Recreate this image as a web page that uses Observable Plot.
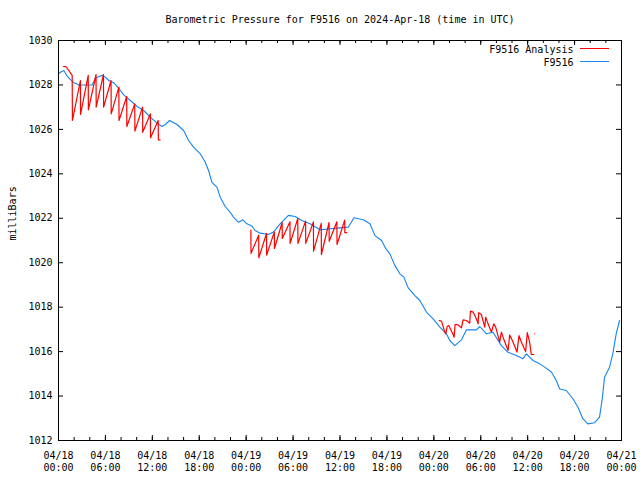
<!DOCTYPE html>
<html><head><meta charset="utf-8">
<script src="https://cdn.jsdelivr.net/npm/d3@7"></script>
<script src="https://cdn.jsdelivr.net/npm/@observablehq/plot@0.6"></script>
<style>body{margin:0;background:#fff}</style>
</head><body><div id="chart"></div>
<script>
const chartTitle = "Barometric Pressure for F9516 on 2024-Apr-18 (time in UTC)";
const yLabel = "milliBars";
const seriesNames = ["F9516 Analysis", "F9516"];
const seriesColors = ["#ff0000", "#1584ee"];
const startUTC = Date.UTC(2024, 3, 18);
const yTicks = [1012, 1014, 1016, 1018, 1020, 1022, 1024, 1026, 1028, 1030];

// Observed station pressure (hours after 2024-04-18 00:00 UTC)
const stationHours = [0, 0.26, 0.68, 1.11, 1.5, 1.95, 2.3, 2.59, 4.3, 4.72, 5.2, 5.58, 6.0, 6.42, 7.06, 7.7, 8.34, 9.19, 10.05, 10.89, 11.74, 12.6, 13.24, 13.66, 14.21, 15.15, 16.0, 16.63, 17.27, 18.13, 18.77, 19.19, 19.62, 20.26, 20.68, 21.32, 21.96, 22.38, 23.02, 23.58, 24.09, 24.73, 25.15, 25.79, 26.85, 27.49, 28.34, 29.4, 30.26, 31.11, 32.17, 33.45, 34.72, 36.0, 37.06, 37.79, 38.98, 39.83, 40.47, 41.32, 41.87, 42.38, 43.02, 43.66, 44.17, 44.72, 45.58, 46.21, 47.07, 47.91, 48.77, 49.62, 50.04, 50.68, 51.54, 52.17, 53.45, 53.87, 54.73, 55.57, 56.64, 57.49, 58.56, 59.4, 59.83, 60.68, 61.53, 62.17, 63.03, 63.66, 64.09, 64.94, 65.79, 66.43, 67.06, 67.7, 68.56, 69.19, 69.54, 69.83, 70.47, 70.89, 71.32, 71.75];
const stationPressure = [1028.5, 1028.57, 1028.65, 1028.4, 1028.25, 1028.1, 1028.05, 1028.0, 1028.0, 1028.3, 1028.38, 1028.43, 1028.35, 1028.2, 1028.1, 1027.85, 1027.55, 1027.3, 1027.03, 1026.85, 1026.55, 1026.28, 1026.13, 1026.22, 1026.4, 1026.22, 1025.95, 1025.5, 1025.2, 1024.9, 1024.52, 1024.15, 1023.62, 1023.4, 1022.95, 1022.53, 1022.27, 1022.05, 1021.82, 1021.93, 1021.75, 1021.65, 1021.45, 1021.33, 1021.27, 1021.38, 1021.75, 1022.13, 1022.08, 1021.9, 1021.75, 1021.48, 1021.53, 1021.57, 1021.6, 1022.02, 1021.93, 1021.75, 1021.22, 1021.0, 1020.62, 1020.4, 1019.87, 1019.5, 1019.35, 1018.87, 1018.52, 1018.3, 1017.77, 1017.47, 1017.1, 1016.8, 1016.5, 1016.27, 1016.53, 1016.98, 1016.98, 1017.13, 1016.8, 1016.87, 1016.27, 1015.97, 1015.82, 1015.68, 1015.9, 1015.6, 1015.45, 1015.3, 1015.08, 1014.7, 1014.32, 1014.25, 1013.88, 1013.5, 1012.98, 1012.75, 1012.8, 1013.05, 1013.88, 1014.85, 1015.3, 1015.9, 1016.8, 1017.4];

// Analysis fits: three runs
const analysisRun = [
  1,1,1,1,1,1,1,1,1,1,1,1,1,1,1,1,1,1,1,1,1,1,1,1,1,1,1,
  2,2,2,2,2,2,2,2,2,2,2,2,2,2,2,2,2,2,2,2,2,2,2,2,2,2,2,
  3,3,3,3,3,3,3,3,3,3,3,3,3,3,3,3,3,3,3,3,3,3,3,3,3,3,3,3,3,3,3,3,3,3,3,3,3,3,3,3];
const analysisHours = [
  0.64, 0.94, 1.75, 1.78, 2.8, 2.82, 3.8, 3.82, 4.8, 4.82, 5.75, 5.77, 6.72, 6.74, 7.72, 7.74, 8.72, 8.74, 9.75, 9.77, 10.75, 10.77, 11.75, 11.77, 12.75, 12.77, 13.0,
  24.6, 24.62, 25.6, 25.62, 26.6, 26.62, 27.6, 27.62, 28.6, 28.62, 29.6, 29.62, 30.6, 30.62, 31.6, 31.62, 32.6, 32.62, 33.6, 33.62, 34.6, 34.62, 35.6, 35.62, 36.6, 36.62, 36.85,
  48.68, 48.98, 49.4, 49.53, 49.7, 49.91, 50.46, 50.59, 50.72, 51.1, 51.53, 51.74, 52.17, 52.59, 52.68, 53.02, 53.44, 53.66, 53.74, 54.08, 54.51, 54.64, 54.93, 55.36, 55.66, 55.91, 56.42, 56.64, 56.85, 57.49, 57.7, 58.04, 58.64, 58.89, 59.19, 59.74, 59.95, 60.25, 60.46, 60.8, 60.89];
const analysisPressure = [
  1028.83, 1028.83, 1028.43, 1026.4, 1028.2, 1026.67, 1028.43, 1026.88, 1028.47, 1027.0, 1028.47, 1027.0, 1028.2, 1026.7, 1027.9, 1026.4, 1027.48, 1026.13, 1027.15, 1025.92, 1027.0, 1025.87, 1026.7, 1025.62, 1026.4, 1025.53, 1025.53,
  1021.47, 1020.42, 1021.24, 1020.22, 1021.32, 1020.34, 1021.39, 1020.64, 1021.81, 1021.09, 1021.84, 1020.87, 1021.99, 1020.87, 1021.87, 1020.87, 1021.84, 1020.52, 1021.77, 1020.37, 1021.81, 1020.97, 1021.84, 1020.82, 1021.92, 1021.35, 1021.35,
  1017.4, 1017.37, 1016.88, 1016.8, 1017.13, 1017.18, 1016.77, 1016.65, 1017.22, 1017.2, 1017.07, 1017.43, 1017.4, 1017.28, 1017.82, 1017.78, 1017.48, 1017.25, 1017.75, 1017.67, 1017.1, 1017.55, 1017.25, 1016.88, 1017.25, 1017.1, 1016.43, 1016.88, 1016.65, 1016.05, 1016.75, 1016.5, 1015.98, 1016.72, 1016.43, 1016.0, 1016.85, 1016.43, 1015.87, 1015.87, 1016.8];

const toDate = h => new Date(startUTC + h * 3600e3);
const station = stationHours.map((h, i) => ({t: toDate(h), p: stationPressure[i]}));
const analysis = analysisHours.map((h, i) => ({t: toDate(h), p: analysisPressure[i], run: analysisRun[i]}));
const x0 = toDate(0), x1 = toDate(72);
const majorTicks = d3.utcHour.every(6).range(x0, toDate(72.01));
const minorTicks = d3.utcHour.every(2).range(x0, toDate(72.01));
const fmt = d3.utcFormat("%m/%d\n%H:%M");

const W = 640, H = 480, mL = 58, mR = 19, mT = 40, mB = 40;
const pw = W - mL - mR, ph = H - mT - mB;
const majLen = 5, minLen = 3;

const plot = Plot.plot({
  width: W, height: H,
  marginLeft: mL, marginRight: mR, marginTop: mT, marginBottom: mB,
  style: {fontFamily: "'DejaVu Sans Mono', monospace", fontSize: "10px", color: "black", background: "white"},
  x: {type: "utc", domain: [x0, x1], axis: null},
  y: {domain: [1012, 1030], axis: null},
  marks: [
    Plot.tickX(minorTicks, {x: d => d, insetTop: ph - minLen, stroke: "black"}),
    Plot.tickX(minorTicks, {x: d => d, insetBottom: ph - minLen, stroke: "black"}),
    Plot.tickX(majorTicks, {x: d => d, insetTop: ph - majLen, stroke: "black"}),
    Plot.tickX(majorTicks, {x: d => d, insetBottom: ph - majLen, stroke: "black"}),
    Plot.tickY(yTicks, {y: d => d, insetRight: pw - majLen, stroke: "black"}),
    Plot.tickY(yTicks, {y: d => d, insetLeft: pw - majLen, stroke: "black"}),
    Plot.text(majorTicks, {x: d => d, text: d => fmt(d), frameAnchor: "bottom", dy: 10, lineAnchor: "top", lineHeight: 1.2, fill: "black"}),
    Plot.text(yTicks, {y: d => d, text: d => String(d), frameAnchor: "left", dx: -6, textAnchor: "end", fill: "black"}),
    Plot.line(station, {x: "t", y: "p", stroke: seriesColors[1], strokeWidth: 1.1}),
    Plot.line(analysis, {x: "t", y: "p", z: "run", stroke: seriesColors[0], strokeWidth: 1.2}),
    Plot.frame({stroke: "black"}),
    Plot.text([chartTitle], {frameAnchor: "top", dy: -21, lineAnchor: "middle", fill: "black"}),
    Plot.text([yLabel], {frameAnchor: "left", dx: -46, rotate: -90, fill: "black"}),
    Plot.text([seriesNames[0]], {frameAnchor: "top-right", dx: -48, dy: 9, lineAnchor: "middle", textAnchor: "end", fill: "black"}),
    Plot.text([seriesNames[1]], {frameAnchor: "top-right", dx: -48, dy: 22, lineAnchor: "middle", textAnchor: "end", fill: "black"})
  ]
});
const svg = d3.select(plot);
[[48.5, seriesColors[0]], [61.5, seriesColors[1]]].forEach(([yy, c]) => {
  svg.append("line").attr("x1", W - mR - 41).attr("x2", W - mR - 12)
    .attr("y1", yy).attr("y2", yy).attr("stroke", c).attr("stroke-width", 1);
});
document.getElementById("chart").appendChild(plot);
</script>
</body></html>
